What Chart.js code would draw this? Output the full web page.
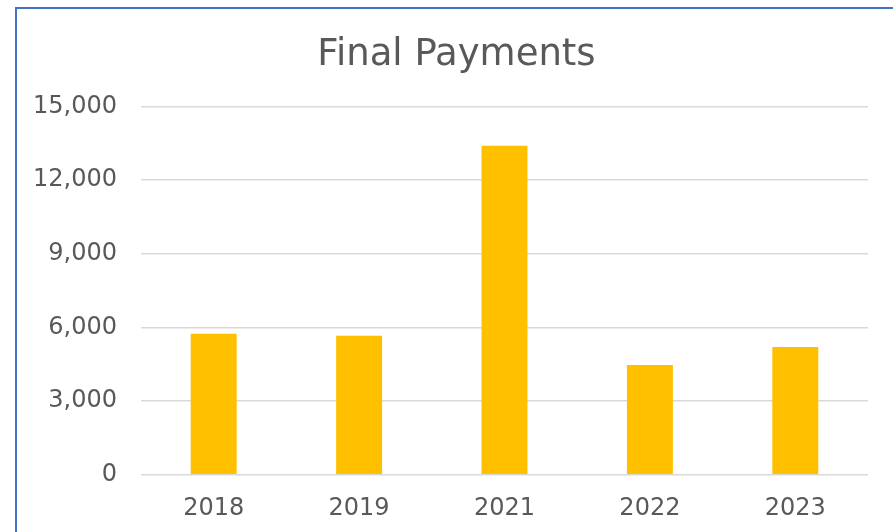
<!DOCTYPE html>
<html>
<head>
<meta charset="utf-8">
<script src="https://cdn.jsdelivr.net/npm/chart.js@4"></script>
<style>
    body { margin: 0; background: #fff; }
    #wrap { position: relative; width: 893px; height: 532px; overflow: hidden; }
    #frame {
        position: absolute; left: 15px; top: 7px; right: -10px; bottom: -10px;
        border-left: 2px solid #4472C4; border-top: 2px solid #4472C4;
        pointer-events: none;
    }
</style>
</head>
<body>
<div id="wrap">
    <canvas id="myChart" width="893" height="532"></canvas>
    <div id="frame"></div>
</div>
<script>
// data
let years = ['2018', '2019', '2021', '2022', '2023'];
let payments = [5740, 5660, 13400, 4470, 5200];
let yTicks = [0, 3000, 6000, 9000, 12000, 15000];

let textColor = '#595959';

// the original frame is wider than the shot, so its title sits a bit right of centre
let titleShift = {
    id: 'titleShift',
    afterLayout: function (chart) {
        if (chart.titleBlock) chart.titleBlock.left = 45;
    }
};

let ctx = document.getElementById('myChart').getContext('2d');
let myChart = new Chart(ctx, {
    type: 'bar',
    data: {
        labels: years,
        datasets: [{
            label: 'Final Payments',
            data: payments,
            backgroundColor: '#FFC000',
            barPercentage: 0.316,
            categoryPercentage: 1
        }]
    },
    plugins: [titleShift],
    options: {
        responsive: false,
        animation: false,
        layout: { padding: { left: 0, right: 25, top: 0, bottom: -10.5 } },
        plugins: {
            legend: { display: false },
            tooltip: { enabled: false },
            title: {
                display: true,
                text: 'Final Payments',
                color: textColor,
                font: { family: 'DejaVu Sans', size: 37, weight: 'normal' },
                padding: { top: 33, bottom: 29 }
            }
        },
        scales: {
            x: {
                grid: { display: false, drawTicks: false },
                border: { display: false },
                ticks: {
                    color: textColor,
                    padding: 19.5,
                    font: { family: 'DejaVu Sans', size: 24 }
                }
            },
            y: {
                min: 0,
                max: 15000,
                afterFit: function (scale) { scale.width = 141; },
                afterBuildTicks: function (scale) {
                    scale.ticks = yTicks.map(v => ({ value: v }));
                },
                grid: { color: '#d9d9d9', lineWidth: 1.5, drawTicks: false },
                border: { display: false },
                ticks: {
                    color: textColor,
                    padding: 24,
                    font: { family: 'DejaVu Sans', size: 24 },
                    callback: function (value) {
                        return value.toLocaleString('en-US');
                    }
                }
            }
        }
    }
});
</script>
</body>
</html>
